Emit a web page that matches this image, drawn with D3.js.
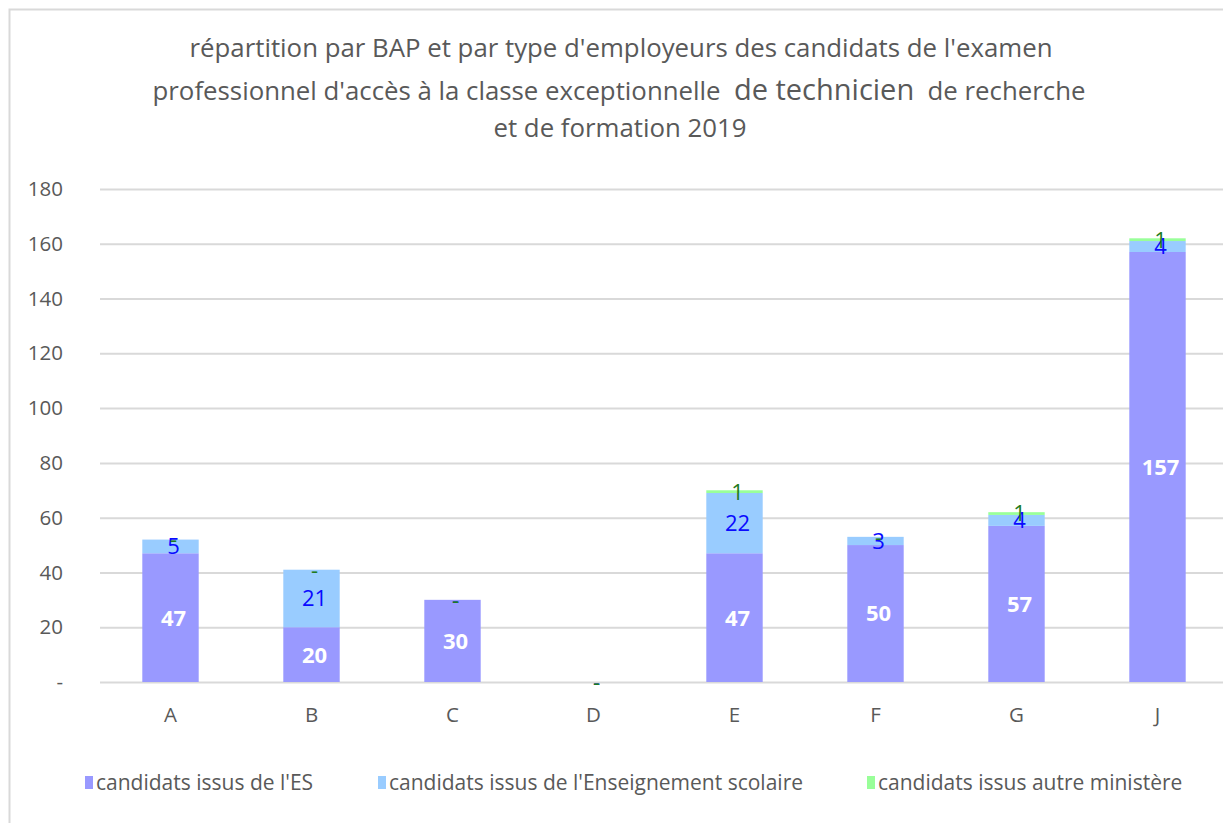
<!DOCTYPE html>
<html>
<head>
<meta charset="utf-8">
<script src="https://cdn.jsdelivr.net/npm/d3@7"></script>
<style>
  body { margin: 0; background: #fff; }
  svg { display: block; }
  .grid line { stroke: #d9d9d9; stroke-width: 2; }
  .tick text { fill: #595959; }
</style>
</head>
<body>
<script>
// ==== data ====
var categories = ["A", "B", "C", "D", "E", "F", "G", "J"];
var seriesNames = ["candidats issus de l'ES", "candidats issus de l'Enseignement scolaire", "candidats issus autre ministère"];
var esValues = [47, 20, 30, 0, 47, 50, 57, 157];
var scolaireValues = [5, 21, 0, 0, 22, 3, 4, 4];
var autreValues = [0, 0, 0, 0, 1, 0, 1, 1];
var yTicks = [0, 20, 40, 60, 80, 100, 120, 140, 160, 180];

var colors = ["#9999ff", "#99ccff", "#99ff99"];
var labelColors = ["#ffffff", "#0a0aff", "#1e7b1e"];

var width = 1223, height = 823;
var margin = {top: 189, right: -5, bottom: 141, left: 100};

var svg = d3.select("body").append("svg")
    .attr("width", width)
    .attr("height", height);

// chart frame
svg.append("rect")
    .attr("x", 9.5).attr("y", 9.5)
    .attr("width", width + 20).attr("height", height + 20)
    .attr("fill", "#fff")
    .attr("stroke", "#d9d9d9")
    .attr("stroke-width", 2);

// ==== title ====
var font = "'Open Sans', sans-serif";
var title = svg.append("text")
    .attr("text-anchor", "middle")
    .attr("fill", "#595959")
    .style("font-family", font)
    .style("font-size", "25.8px")
    .style("white-space", "pre");
title.append("tspan").attr("x", 621).attr("y", 57)
    .text("répartition par BAP et par type d'employeurs des candidats de l'examen");
var l2 = title.append("tspan").attr("x", 619).attr("y", 100);
l2.append("tspan").text("professionnel d'accès à la classe exceptionnelle  ");
l2.append("tspan").style("font-size", "29px").text("de technicien");
l2.append("tspan").text("  de recherche");
title.append("tspan").attr("x", 620).attr("y", 137)
    .text("et de formation 2019");

// ==== scales ====
var x = d3.scaleBand()
    .domain(categories)
    .range([margin.left, width - margin.right])
    .paddingInner(0.6)
    .paddingOuter(0.3);

var y = d3.scaleLinear()
    .domain([0, 180])
    .range([height - margin.bottom, margin.top]);

// gridlines
svg.append("g")
    .attr("class", "grid")
    .attr("transform", "translate(" + margin.left + ",0)")
    .call(d3.axisLeft(y).tickValues(yTicks).tickSize(-(width - margin.left)).tickFormat(""))
    .call(function(g) { g.select(".domain").remove(); });

// y labels
svg.append("g")
    .attr("transform", "translate(" + (margin.left - 37) + ",0)")
    .call(d3.axisLeft(y).tickValues(yTicks).tickSize(0)
      .tickFormat(function(d) { return d === 0 ? "-" : d; }))
    .call(function(g) {
      g.select(".domain").remove();
      g.selectAll("text")
        .style("font-family", font)
        .style("font-size", "20.5px")
        .attr("x", 0);
    });

// x labels
svg.append("g")
    .attr("transform", "translate(0," + (height - margin.bottom) + ")")
    .call(d3.axisBottom(x).tickSize(0).tickPadding(25))
    .call(function(g) {
      g.select(".domain").remove();
      g.selectAll("text")
        .style("font-family", font)
        .style("font-size", "20.5px");
    });

// ==== stacked bars ====
var rows = categories.map(function(c, i) {
  return {cat: c, es: esValues[i], sc: scolaireValues[i], au: autreValues[i]};
});
var stack = d3.stack().keys(["es", "sc", "au"])(rows);

var layer = svg.selectAll(".layer")
    .data(stack)
  .enter().append("g")
    .attr("class", "layer")
    .attr("fill", function(d, i) { return colors[i]; });

layer.selectAll("rect")
    .data(function(d) { return d; })
  .enter().append("rect")
    .attr("x", function(d) { return x(d.data.cat); })
    .attr("width", x.bandwidth())
    .attr("y", function(d) { return y(d[1]); })
    .attr("height", function(d) { return y(d[0]) - y(d[1]); });

// value labels, zero is shown as "-"
stack.forEach(function(s, k) {
  svg.append("g").selectAll("text")
      .data(s)
    .enter().append("text")
      .attr("x", function(d) { return x(d.data.cat) + x.bandwidth() / 2 + 3; })
      .attr("y", function(d) { return y((d[0] + d[1]) / 2); })
      .attr("dy", "0.36em")
      .attr("text-anchor", "middle")
      .attr("fill", labelColors[k])
      .style("font-family", font)
      .style("font-size", "22px")
      .style("font-weight", k === 0 ? "bold" : "normal")
      .text(function(d) { var v = d[1] - d[0]; return v === 0 ? "-" : v; });
});

// ==== legend ====
var legendX = [85, 378, 867];
var legend = svg.selectAll(".legend")
    .data(seriesNames)
  .enter().append("g")
    .attr("class", "legend")
    .attr("transform", function(d, i) { return "translate(" + legendX[i] + ",783)"; });

legend.append("rect")
    .attr("x", 0).attr("y", -7)
    .attr("width", 8).attr("height", 13)
    .attr("fill", function(d, i) { return colors[i]; });

legend.append("text")
    .attr("x", 11)
    .attr("dy", "0.35em")
    .attr("fill", "#595959")
    .style("font-family", font)
    .style("font-size", "21px")
    .text(function(d) { return d; });
</script>
</body>
</html>
